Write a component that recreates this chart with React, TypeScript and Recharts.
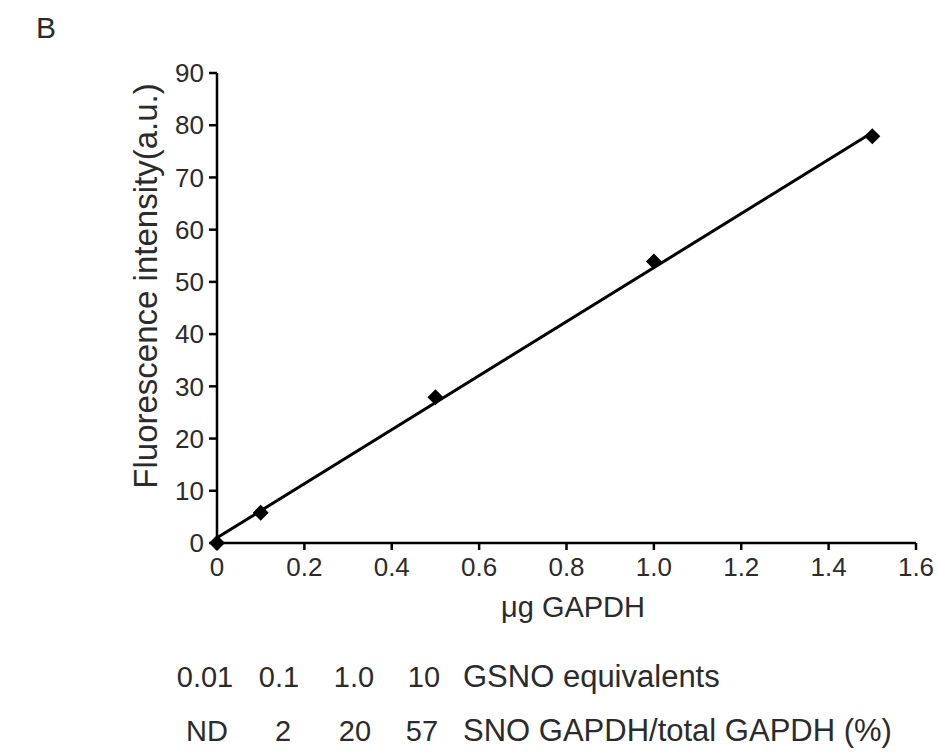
import React from 'react';
import { ScatterChart, Scatter, XAxis, YAxis, Label } from 'recharts';

// values
const gapdhUg = [0, 0.1, 0.5, 1.0, 1.5];
const fluorescence = [0, 5.8, 27.9, 53.9, 77.9];
const fitX = [0, 1.5];
const fitY = [1.0, 78.6];
const xTicks = [0, 0.2, 0.4, 0.6, 0.8, 1.0, 1.2, 1.4, 1.6];
const yTicks = [0, 10, 20, 30, 40, 50, 60, 70, 80, 90];
const gsnoEquivalents = ['0.01', '0.1', '1.0', '10'];
const snoPercent = ['ND', '2', '20', '57'];

const points = gapdhUg.map((x, i) => ({ x, y: fluorescence[i] }));
const fitLine = fitX.map((x, i) => ({ x, y: fitY[i] }));

const font = "'Liberation Sans', Arial, sans-serif";
const textColor = '#2b2b2b';

const Diamond = (props: any) => {
    const { cx, cy } = props;
    if (cx == null || cy == null) return <g />;
    return <path d={`M${cx},${cy - 8}L${cx + 8},${cy}L${cx},${cy + 8}L${cx - 8},${cy}Z`} fill="#000" />;
};

const row1Centers = [205, 279, 354, 424];
const row2Centers = [207, 283, 355, 422];

export default function App() {
    return (
        <div style={{ position: 'absolute', left: 0, top: 0, width: 938, height: 752, background: '#fff', fontFamily: font }}>
            <ScatterChart width={938} height={752} margin={{ top: 73, right: 22, bottom: 119, left: 0 }} style={{ fontFamily: font }}>
                <XAxis
                    type="number"
                    dataKey="x"
                    domain={[0, 1.6]}
                    ticks={xTicks}
                    interval={0}
                    height={90}
                    tickFormatter={(v: number) => (v === 0 ? '0' : v.toFixed(1))}
                    axisLine={{ stroke: '#000', strokeWidth: 2.5 }}
                    tickLine={{ stroke: '#000', strokeWidth: 2.5 }}
                    tickSize={7}
                    tickMargin={8}
                    tick={{ fill: textColor, fontSize: 26, fontFamily: font }}
                >
                    <Label
                        content={() => (
                            <text x={573} y={617} textAnchor="middle" fontSize={29} fill={textColor} fontFamily={font}>
                                μg GAPDH
                            </text>
                        )}
                    />
                </XAxis>
                <YAxis
                    type="number"
                    dataKey="y"
                    domain={[0, 90]}
                    ticks={yTicks}
                    interval={0}
                    width={217}
                    axisLine={{ stroke: '#000', strokeWidth: 2.5 }}
                    tickLine={{ stroke: '#000', strokeWidth: 2.5 }}
                    tickSize={8}
                    tickMargin={5}
                    tick={{ fill: textColor, fontSize: 26, fontFamily: font }}
                >
                    <Label
                        content={() => (
                            <text x={157} y={286} transform="rotate(-90 157 286)" textAnchor="middle" fontSize={33} fill={textColor} fontFamily={font}>
                                Fluorescence intensity(a.u.)
                            </text>
                        )}
                    />
                </YAxis>
                <Scatter data={fitLine} line={{ stroke: '#000', strokeWidth: 3 }} shape={() => <g />} isAnimationActive={false} />
                <Scatter data={points} shape={Diamond} isAnimationActive={false} />
            </ScatterChart>
            <svg width={938} height={752} style={{ position: 'absolute', left: 0, top: 0, pointerEvents: 'none' }} fontFamily={font}>
                <text x={36} y={38} fontSize={30} fill={textColor}>B</text>
                {gsnoEquivalents.map((t, i) => (
                    <text key={'g' + i} x={row1Centers[i]} y={687} textAnchor="middle" fontSize={29} fill={textColor}>{t}</text>
                ))}
                <text x={463} y={687} fontSize={31} fill={textColor}>GSNO equivalents</text>
                {snoPercent.map((t, i) => (
                    <text key={'s' + i} x={row2Centers[i]} y={741} textAnchor="middle" fontSize={29} fill={textColor}>{t}</text>
                ))}
                <text x={463} y={741} fontSize={31} fill={textColor}>SNO GAPDH/total GAPDH (%)</text>
            </svg>
        </div>
    );
}
